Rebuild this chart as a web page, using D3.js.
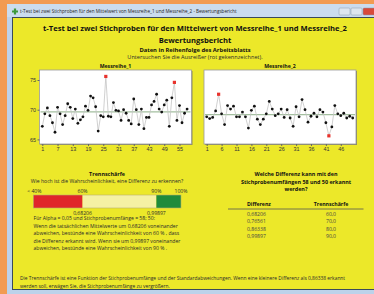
<!DOCTYPE html>
<html>
<head>
<meta charset="utf-8">
<script src="https://cdn.jsdelivr.net/npm/d3@7"></script>
<style>
  body { margin: 0; background: #fff; }
  svg { display: block; font-family: "Open Sans", "Noto Sans", sans-serif; }
</style>
</head>
<body>
<div id="chart"></div>
<script>
// Messreihe_1 (58 Werte) und Messreihe_2 (50 Werte)
var messreihe1 = [67.2, 69.3, 70.3, 69.0, 67.8, 66.2, 70.4, 69.3, 67.5, 69.0,
  71.0, 70.4, 68.5, 70.1, 67.7, 68.3, 68.8, 70.6, 69.9, 72.3,
  72.0, 70.5, 66.4, 69.0, 68.8, 75.6, 68.9, 68.8, 71.2, 69.9,
  69.8, 68.2, 70.0, 69.4, 68.2, 67.6, 71.8, 70.0, 67.5, 70.1,
  66.8, 68.7, 68.7, 70.8, 71.4, 72.6, 70.1, 69.6, 70.8, 71.6,
  67.2, 72.0, 74.6, 68.2, 70.7, 67.8, 69.4, 70.1];
var messreihe2 = [68.8, 68.5, 68.7, 69.8, 72.6, 69.3, 67.5, 70.7, 70.1, 70.6,
  68.8, 68.8, 69.6, 68.8, 66.9, 69.9, 70.6, 68.4, 67.5, 68.4,
  69.3, 71.4, 70.1, 69.0, 69.3, 70.1, 68.7, 70.0, 68.6, 67.2,
  70.5, 68.8, 71.7, 70.0, 67.9, 68.9, 69.4, 68.8, 70.0, 69.6,
  67.8, 65.6, 67.1, 70.7, 69.3, 69.0, 69.4, 68.6, 68.9, 68.6];
var ausreisser1 = [26, 53];
var ausreisser2 = [5, 42];
var xTicks1 = [1, 7, 13, 19, 25, 31, 37, 43, 49, 55];
var xTicks2 = [1, 6, 11, 16, 21, 26, 31, 36, 41, 46];
var yTicks1 = [65, 70, 75];

// Trennschärfe-Balken
var powerBands = [{ from: 40, to: 60 }, { from: 60, to: 90 }, { from: 90, to: 100 }];
var powerLabels = [{ v: 40, t: "< 40%" }, { v: 60, t: "60%" }, { v: 90, t: "90%" }, { v: 100, t: "100%" }];
var powerDiffs = [{ v: 60, t: "0,68206" }, { v: 90, t: "0,99897" }];

// Tabelle
var tabDifferenz = ["0,68206", "0,76561", "0,86338", "0,99897"];
var tabTrennschaerfe = ["60,0", "70,0", "80,0", "90,0"];

var width = 374, height = 294;
var yellow = "#ece829";

var svg = d3.select("#chart").append("svg")
  .attr("width", width).attr("height", height);

// Fensterrahmen
svg.append("rect").attr("width", width).attr("height", height).attr("fill", "#f29b52");
svg.append("rect").attr("x", 7).attr("y", 4).attr("width", width - 7).attr("height", height - 4).attr("fill", "#bcd2ea");
svg.append("rect").attr("x", 7).attr("y", 4).attr("width", width - 7).attr("height", 13).attr("fill", "#cbdcee");
svg.append("rect").attr("x", 12.5).attr("y", 17.5).attr("width", width).attr("height", 272)
  .attr("fill", yellow).attr("stroke", "#3a4a5a").attr("stroke-width", 1);

// Titelleiste
svg.append("path").attr("d", "M12,11.5h6M15,8.5v6").attr("stroke", "#3d9a3d").attr("stroke-width", 2.2);
svg.append("text").attr("x", 20).attr("y", 12.8).attr("font-size", 4.6).attr("fill", "#222")
  .text("t-Test bei zwei Stichproben für den Mittelwert von Messreihe_1 und Messreihe_2 - Bewertungsbericht");
var btns = [{ x: 339, w: 11, c: "#dde6f0" }, { x: 351, w: 11, c: "#dde6f0" }, { x: 363, w: 14, c: "#d84a3a" }];
svg.selectAll(".btn").data(btns).enter().append("rect")
  .attr("x", d => d.x).attr("y", 8).attr("width", d => d.w).attr("height", 7)
  .attr("rx", 1).attr("fill", d => d.c).attr("stroke", "#8a9aae").attr("stroke-width", 0.5);

// Überschriften
var cx = 195;
function txt(x, y, s, size, opts) {
  opts = opts || {};
  return svg.append("text").attr("x", x).attr("y", y)
    .attr("font-size", size)
    .attr("font-weight", opts.bold ? "bold" : null)
    .attr("text-anchor", opts.anchor || "middle")
    .attr("fill", opts.fill || (opts.bold ? "#111" : "#2a2a2a"))
    .text(s);
}
txt(cx, 31, "t-Test bei zwei Stichproben für den Mittelwert von Messreihe_1 und Messreihe_2", 7.6, { bold: true });
txt(cx, 43, "Bewertungsbericht", 7.6, { bold: true });
txt(cx, 51.5, "Daten in Reihenfolge des Arbeitsblatts", 5.8, { bold: true });
txt(cx, 58.5, "Untersuchen Sie die Ausreißer (rot gekennzeichnet).", 5.6);

// Zeitreihen-Diagramme
var yScale = d3.scaleLinear().domain([65, 75]).range([139.4, 80]);

function runChart(data, outl, ticks, x0, x1, frame, title, showY) {
  var x = d3.scaleLinear().domain([1, data.length]).range([x0, x1]);
  var g = svg.append("g");
  g.append("rect").attr("x", frame[0] + 1).attr("y", 71).attr("width", frame[1] - frame[0]).attr("height", 74)
    .attr("fill", "#8a8a60");
  g.append("rect").attr("x", frame[0]).attr("y", 70).attr("width", frame[1] - frame[0]).attr("height", 74)
    .attr("fill", "#fff").attr("stroke", "#9a9a9a").attr("stroke-width", 0.8);
  txt((frame[0] + frame[1]) / 2, 68, title, 5.2, { bold: true });

  // Mittelwertlinie
  var mean = d3.mean(data);
  g.append("line").attr("x1", frame[0] + 1).attr("x2", frame[1] - 1)
    .attr("y1", yScale(mean)).attr("y2", yScale(mean))
    .attr("stroke", "#a3bf9f").attr("stroke-width", 1.3);

  var line = d3.line().x((d, i) => x(i + 1)).y(d => yScale(d));
  g.append("path").datum(data).attr("d", line)
    .attr("fill", "none").attr("stroke", "#c4c4c4").attr("stroke-width", 0.8);

  var pts = data.map((d, i) => ({ i: i + 1, v: d, out: outl.indexOf(i + 1) >= 0 }));
  g.selectAll(".pt").data(pts.filter(p => !p.out)).enter().append("circle")
    .attr("cx", p => x(p.i)).attr("cy", p => yScale(p.v))
    .attr("r", 1.4).attr("fill", "#111");
  g.selectAll(".out").data(pts.filter(p => p.out)).enter().append("rect")
    .attr("x", p => x(p.i) - 1.6).attr("y", p => yScale(p.v) - 1.6)
    .attr("width", 3.2).attr("height", 3.2).attr("fill", "#e8322c");

  var xa = d3.axisBottom(x).tickValues(ticks).tickSize(2).tickPadding(1.5).tickSizeOuter(0);
  var ax = svg.append("g").attr("transform", "translate(0,144)").call(xa);
  ax.select(".domain").remove();
  ax.selectAll("line").attr("stroke", "#666");
  ax.selectAll("text").attr("font-size", 5.4).attr("fill", "#333");

  if (showY) {
    var ya = d3.axisLeft(yScale).tickValues(yTicks1).tickSize(2).tickPadding(1.5);
    var ay = svg.append("g").attr("transform", "translate(" + frame[0] + ",0)").call(ya);
    ay.select(".domain").remove();
    ay.selectAll("line").attr("stroke", "#666");
    ay.selectAll("text").attr("font-size", 5.4).attr("fill", "#333");
  }
}
runChart(messreihe1, ausreisser1, xTicks1, 42.3, 187.1, [39.5, 191.5], "Messreihe_1", true);
runChart(messreihe2, ausreisser2, xTicks2, 206.7, 352.7, [204, 356], "Messreihe_2", false);

// Trennschärfe
txt(107, 176, "Trennschärfe", 5.4, { bold: true });
txt(107, 182.5, "Wie hoch ist die Wahrscheinlichkeit, eine Differenz zu erkennen?", 5.1);

var pScale = d3.scaleLinear().domain([40, 100]).range([33.3, 181]);
var bandColor = d3.scaleOrdinal().domain([0, 1, 2]).range(["#e0252a", "#f5f1a4", "#1f8b3b"]);
svg.selectAll(".band").data(powerBands).enter().append("rect")
  .attr("x", d => pScale(d.from)).attr("y", 195)
  .attr("width", d => pScale(d.to) - pScale(d.from)).attr("height", 13)
  .attr("fill", (d, i) => bandColor(i));
svg.append("rect").attr("x", pScale(40)).attr("y", 195).attr("width", pScale(100) - pScale(40)).attr("height", 13)
  .attr("fill", "none").attr("stroke", "#b8b070").attr("stroke-width", 0.6);
svg.selectAll(".plab").data(powerLabels).enter().append("text")
  .attr("x", d => pScale(d.v) + (d.v === 40 ? 1 : 0)).attr("y", 192.5)
  .attr("text-anchor", "middle").attr("font-size", 5.1).attr("fill", "#2a2a2a").text(d => d.t);
svg.selectAll(".pdiff").data(powerDiffs).enter().append("text")
  .attr("x", d => pScale(d.v)).attr("y", 214.5)
  .attr("text-anchor", "middle").attr("font-size", 5.1).attr("fill", "#2a2a2a").text(d => d.t);

var para = ["Für Alpha = 0,05 und Stichprobenumfänge = 58; 50:",
  "Wenn die tatsächlichen Mittelwerte um 0,68206 voneinander",
  "abweichen, bestünde eine Wahrscheinlichkeit von 60 % , dass",
  "die Differenz erkannt wird. Wenn sie um 0,99897 voneinander",
  "abweichen, bestünde eine Wahrscheinlichkeit von 90 % ."];
para.forEach(function (s, i) {
  txt(33.5, 220.3 + i * 7.5, s, 5.1, { anchor: "start" });
});

// Tabelle rechts
txt(296, 176, "Welche Differenz kann mit den", 5.4, { bold: true });
txt(296, 183.5, "Stichprobenumfängen 58 und 50 erkannt", 5.4, { bold: true });
txt(296, 191, "werden?", 5.4, { bold: true });
txt(247, 205.5, "Differenz", 5.2, { bold: true, anchor: "start" });
txt(331, 205.5, "Trennschärfe", 5.2, { bold: true });
svg.append("line").attr("x1", 228).attr("x2", 363.5).attr("y1", 209).attr("y2", 209)
  .attr("stroke", "#555").attr("stroke-width", 0.8);
var rowY = d3.scalePoint().domain(d3.range(tabDifferenz.length)).range([216.2, 237.8]);
svg.selectAll(".tdiff").data(tabDifferenz).enter().append("text")
  .attr("x", 247).attr("y", (d, i) => rowY(i)).attr("font-size", 5.1).attr("fill", "#444").text(d => d);
svg.selectAll(".tpow").data(tabTrennschaerfe).enter().append("text")
  .attr("x", 331).attr("y", (d, i) => rowY(i)).attr("text-anchor", "middle")
  .attr("font-size", 5.1).attr("fill", "#444").text(d => d);

// Fußnote
txt(20, 280.3, "Die Trennschärfe ist eine Funktion der Stichprobenumfänge und der Standardabweichungen. Wenn eine kleinere Differenz als 0,86338 erkannt", 4.9, { anchor: "start" });
txt(20, 287.5, "werden soll, erwägen Sie, die Stichprobenumfänge zu vergrößern.", 4.9, { anchor: "start" });
</script>
</body>
</html>
